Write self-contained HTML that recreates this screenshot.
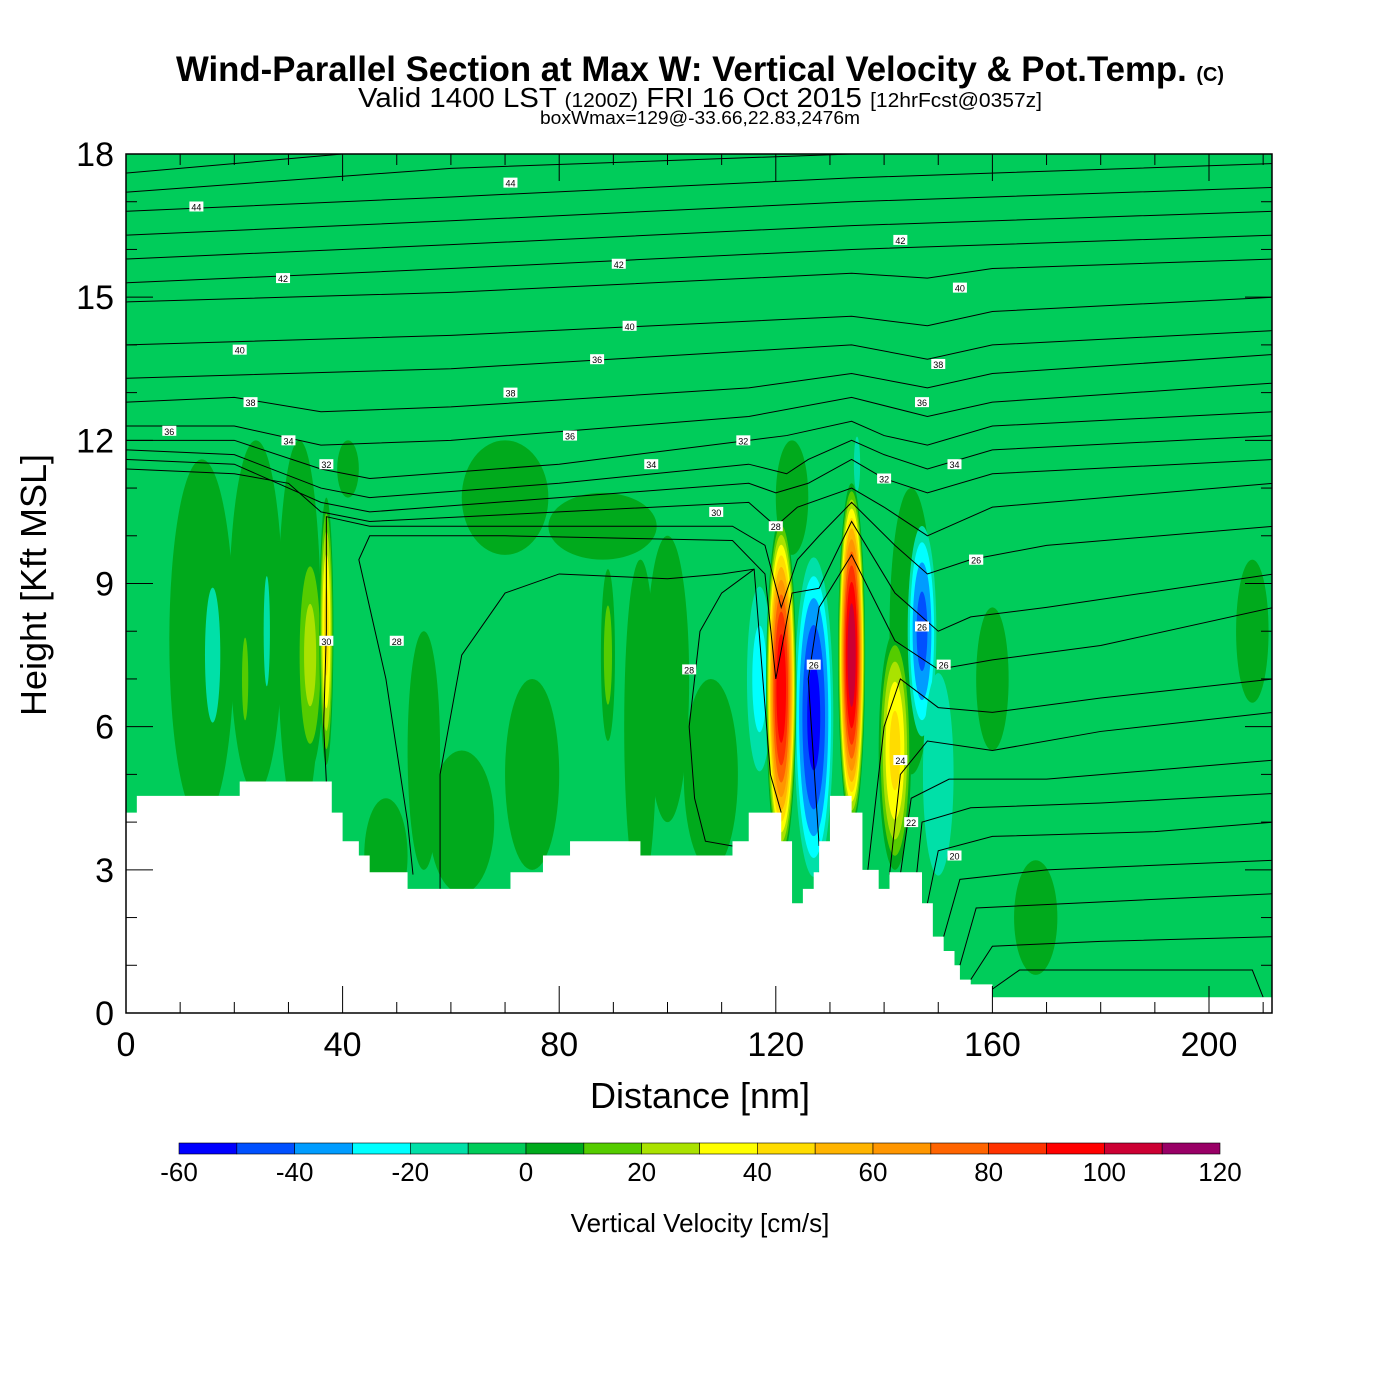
<!DOCTYPE html>
<html><head><meta charset="utf-8"><style>
body{margin:0;background:#fff;font-family:"Liberation Sans",sans-serif}
svg{display:block}
</style></head><body>
<svg id="chart" width="1400" height="1400" xmlns="http://www.w3.org/2000/svg">
<text x="700" y="81" text-anchor="middle" font-size="35" font-weight="bold" textLength="1048" lengthAdjust="spacingAndGlyphs">Wind-Parallel Section at Max W: Vertical Velocity &amp; Pot.Temp. <tspan font-size="20">(C)</tspan></text>
<text x="700" y="107" text-anchor="middle" font-size="28" textLength="684" lengthAdjust="spacingAndGlyphs">Valid 1400 LST <tspan font-size="20">(1200Z)</tspan> FRI 16 Oct 2015 <tspan font-size="20">[12hrFcst@0357z]</tspan></text>
<text x="700" y="124" text-anchor="middle" font-size="18" textLength="320" lengthAdjust="spacingAndGlyphs">boxWmax=129@-33.66,22.83,2476m</text>
<defs><clipPath id="pc"><rect x="126" y="154" width="1146" height="859"/></clipPath></defs>
<g id="plot" clip-path="url(#pc)"></g>
<g id="axes"></g>
<text x="700" y="1108" text-anchor="middle" font-size="36">Distance [nm]</text>
<text transform="translate(46,585) rotate(-90)" text-anchor="middle" font-size="36">Height [Kft MSL]</text>
<g id="cbar"></g>
<text x="700" y="1232" text-anchor="middle" font-size="26">Vertical Velocity [cm/s]</text>
</svg>
<script>
const xTicks=[0,40,80,120,160,200];
const yTicks=[0,3,6,9,12,15,18];
const cbarLevels=[-60,-50,-40,-30,-20,-10,0,10,20,30,40,50,60,70,80,90,100,110,120];
const cbarColors=["#0000ff","#0050ff","#009cff","#00ffff","#00e0a8","#00cc5a","#00aa1c","#55cc00","#aae200","#ffff00","#ffdc00","#ffb400","#ff9600","#ff6400","#ff3200","#ff0000","#cc0033","#990066"];
const cbarLabels=[-60,-40,-20,0,20,40,60,80,100,120];
// terrain: [x0,x1,heightKft]
const terrain=[[0,2,4.2],[2,21,4.55],[21,38,4.85],[38,40,4.2],[40,43,3.6],[43,45,3.3],[45,52,2.95],[52,71,2.6],[71,77,2.95],[77,82,3.3],[82,95,3.6],[95,112,3.3],[112,115,3.6],[115,121,4.2],[121,123,3.6],[123,125,2.3],[125,127,2.6],[127,128,2.95],[128,130,3.6],[130,134,4.55],[134,136,4.2],[136,139,3.0],[139,141,2.6],[141,147,2.95],[147,149,2.3],[149,151,1.6],[151,153,1.3],[153,154,1.0],[154,156,0.7],[156,160,0.6],[160,212,0.33]];
// W blobs: [x nm, z kft, rx nm, rz kft, peak cm/s]
const blobX=[14,24,32,48,55,62,70,88,95,100,108,75,123,145,160,168,208,41,34,37,22,89,16,26,117,127,121,134,142,147,150,135];
const blobZ=[7.8,8.3,8,3.3,5.5,4,10.8,10.2,6,7,5,5,10.8,8,7,2,8,11.4,7.5,8,7,7.5,7.5,8,7,6.2,6.8,7.5,5.5,8,5,11.5];
const blobRX=[6,5,4,4,3,6,8,10,3,4,5,5,3,4,3,4,3,2,2.5,1.3,1,1.3,2,1,3,4,2.8,2.5,3,3,4,1];
const blobRZ=[3.8,3.7,4,1.2,2.5,1.5,1.2,0.7,3.5,3,2,2,1.2,3,1.5,1.2,1.5,0.6,2.4,2.8,1.5,1.8,2,2,2.5,3.7,3.6,3.6,2.5,2.5,3,1];
const blobPeak=[5,5,5,5,5,5,5,5,5,5,5,5,5,5,5,5,5,5,25,45,15,15,-20,-15,-25,-55,100,110,45,-45,-20,-15];
// theta contours: lists of [x,z]
const thetaLines=[
[[0,17.6],[60,18.2],[100,18.4],[212,18.5]],
[[0,17.2],[60,17.7],[134,18],[212,18.3]],
[[0,16.8],[60,17.1],[134,17.5],[212,17.8]],
[[0,16.3],[60,16.6],[134,17],[212,17.3]],
[[0,15.8],[60,16.1],[134,16.5],[212,16.8]],
[[0,15.3],[60,15.6],[134,16],[212,16.3]],
[[0,14.9],[60,15.1],[134,15.5],[148,15.4],[160,15.6],[212,15.8]],
[[0,14.0],[60,14.2],[134,14.6],[148,14.4],[160,14.7],[212,15.0]],
[[0,13.3],[60,13.5],[134,14],[148,13.7],[160,14],[212,14.3]],
[[0,12.8],[20,12.9],[36,12.6],[60,12.7],[115,13.1],[134,13.4],[148,13.1],[160,13.4],[212,13.8]],
[[0,12.3],[20,12.3],[36,11.9],[60,12.0],[115,12.5],[134,12.9],[148,12.5],[160,12.8],[212,13.2]],
[[0,12.0],[20,12.0],[36,11.4],[45,11.2],[80,11.5],[115,12],[122,12.1],[134,12.4],[140,12.1],[148,11.9],[160,12.3],[212,12.6]],
[[0,11.8],[20,11.7],[36,11.0],[45,10.8],[80,11.1],[115,11.5],[122,11.3],[126,11.6],[134,12],[140,11.7],[148,11.4],[160,11.8],[212,12.1]],
[[0,11.6],[20,11.5],[36,10.7],[45,10.5],[80,10.8],[115,11.1],[120,10.9],[126,11.1],[134,11.6],[140,11.2],[148,10.9],[160,11.3],[212,11.6]],
[[0,11.4],[20,11.3],[30,11.1],[36,10.5],[45,10.3],[80,10.5],[115,10.7],[120,10.2],[124,10.6],[134,11.0],[140,10.6],[148,10.0],[160,10.6],[212,11.1]],
[[37,4.85],[36.5,6],[37,8],[37,10.4],[45,10.2],[80,10.2],[112,10.2],[118,9.8],[121,8.5],[124,9.5],[128,10],[134,10.7],[142,9.8],[148,9.2],[156,9.5],[170,9.8],[212,10.2]],
[[53,2.9],[52,4],[50,5.5],[48,7],[45,8.5],[43,9.5],[45,10],[70,10],[112,9.9],[118,9.2],[120,7],[123,8.8],[128,8.9],[134,10.3],[142,8.8],[150,8],[156,8.3],[170,8.5],[212,9.2]],
[[58,2.6],[58,5],[62,7.5],[70,8.8],[80,9.2],[100,9.1],[110,9.2],[116,9.3],[119,5],[121,4.2]],
[[112,3.5],[107,3.6],[105,4.5],[104,6],[106,8],[110,8.8],[116,9.3]],
[[128,3.5],[126,7],[128,8.5],[134,9.6],[142,7.8],[150,7.2],[160,7.4],[180,7.7],[212,8.5]],
[[137,3.0],[140,6],[143,7],[150,6.4],[160,6.3],[180,6.6],[212,7.0]],
[[141,2.9],[143,5],[148,5.7],[160,5.5],[180,5.9],[212,6.3]],
[[143,2.9],[145,4.5],[152,4.9],[170,4.9],[212,5.3]],
[[146,2.9],[147,4],[156,4.3],[180,4.4],[212,4.6]],
[[148,2.3],[150,3.4],[160,3.7],[190,3.8],[212,4.0]],
[[151,1.6],[154,2.8],[170,3.0],[212,3.2]],
[[154,1.0],[157,2.2],[175,2.3],[212,2.5]],
[[156,0.7],[160,1.4],[180,1.5],[212,1.6]],
[[160,0.5],[165,0.9],[185,0.9],[208,0.9],[210,0.33]]];
const labelX=[13,71,91,29,93,21,87,8,23,71,30,82,37,97,109,114,104,50,37,120,127,147,150,153,154,143,157,157,147,151,143,145,153,140];
const labelZ=[16.9,17.4,15.7,15.4,14.4,13.9,13.7,12.2,12.8,13,12,12.1,11.5,11.5,10.5,12,7.2,7.8,7.8,10.2,7.3,12.8,13.6,11.5,15.2,16.2,9.5,9.5,8.1,7.3,5.3,4.0,3.3,11.2];
const labelTxt=["44","44","42","42","40","40","36","36","38","38","34","36","32","34","30","32","28","28","30","28","26","36","38","34","40","42","26","26","26","26","24","22","20","32"];

const NS="http://www.w3.org/2000/svg";
const X0=126,X1=1272,Y0=1013,Y1=154;
const sx=v=>X0+v*(1209-126)/200;
const sy=v=>Y0-v*(Y0-Y1)/18;
function mk(t,a,p){const e=document.createElementNS(NS,t);for(const k in a)e.setAttribute(k,a[k]);p.appendChild(e);return e;}
function colorFor(lo){const i=cbarLevels.indexOf(lo);return cbarColors[Math.max(0,Math.min(cbarColors.length-1,i))];}
const plot=document.getElementById('plot');
const bg=mk('rect',{x:X0,y:Y1,width:X1-X0,height:Y0-Y1,fill:"#00cc5a"},plot);


for(let b=0;b<blobX.length;b++){
  const p=blobPeak[b];
  const g=mk('g',{},plot);
  
  
  if(p>0){
    for(let L=0;L<p;L+=10){
      const f=Math.sqrt(1-L/p);
      mk('ellipse',{cx:sx(blobX[b]),cy:sy(blobZ[b]),rx:Math.abs(sx(blobRX[b]*f)-sx(0)),ry:Math.abs(sy(0)-sy(blobRZ[b]*f)),fill:colorFor(L)},g);
    }
  } else {
    for(let L=-10;L>p;L-=10){
      const f=Math.sqrt(1-L/p);
      mk('ellipse',{cx:sx(blobX[b]),cy:sy(blobZ[b]),rx:Math.abs(sx(blobRX[b]*f)-sx(0)),ry:Math.abs(sy(0)-sy(blobRZ[b]*f)),fill:colorFor(L-10)},g);
    }
  }
}
for(const c of thetaLines){
  const pl=mk('polyline',{points:c.map(q=>sx(q[0])+','+sy(q[1])).join(' '),fill:'none',stroke:'#000','stroke-width':1},plot);
  
  
}
for(let i=0;i<labelX.length;i++){
  const g=mk('g',{},plot);
  
  
  mk('rect',{x:sx(labelX[i])-7,y:sy(labelZ[i])-5,width:14,height:10,fill:'#fff'},g);
  const t=mk('text',{x:sx(labelX[i]),y:sy(labelZ[i])+4,'font-size':9,'text-anchor':'middle'},g);
  t.textContent=labelTxt[i];
}
let d='M'+sx(0)+','+sy(0);
for(const t of terrain){d+=' L'+sx(t[0])+','+sy(t[2])+' L'+sx(t[1])+','+sy(t[2]);}
d+=' L'+sx(212)+','+sy(0)+' Z';
const tr=mk('path',{d:d,fill:'#fff'},plot);



const ax=document.getElementById('axes');
const frame=mk('rect',{x:X0,y:Y1,width:X1-X0,height:Y0-Y1,fill:'none',stroke:'#000','stroke-width':1.5},ax);


for(let v=0;v<=210;v+=10){
  const L=(v%40===0)?27:11;
  mk('line',{x1:sx(v),x2:sx(v),y1:Y0,y2:Y0-L,stroke:'#000','stroke-width':1},ax);
  mk('line',{x1:sx(v),x2:sx(v),y1:Y1,y2:Y1+L,stroke:'#000','stroke-width':1},ax);
}
for(let v=0;v<=18;v++){
  const L=(v%3===0)?27:11;
  mk('line',{x1:X0,x2:X0+L,y1:sy(v),y2:sy(v),stroke:'#000','stroke-width':1},ax);
  mk('line',{x1:X1,x2:X1-L,y1:sy(v),y2:sy(v),stroke:'#000','stroke-width':1},ax);
}
for(const v of xTicks){
  const t=mk('text',{x:sx(v),y:1056,'font-size':34,'text-anchor':'middle'},ax);
  
  
  t.textContent=v;
}
for(const v of yTicks){
  const t=mk('text',{x:114,y:sy(v)+12,'font-size':34,'text-anchor':'end'},ax);
  
  
  t.textContent=v;
}
const cb=document.getElementById('cbar');
const cx=v=>179+(v+60)*(1220-179)/180;
for(let i=0;i<cbarColors.length;i++){
  const r=mk('rect',{x:cx(cbarLevels[i]),y:1143,width:cx(cbarLevels[i+1])-cx(cbarLevels[i]),height:11,fill:cbarColors[i],stroke:'#000','stroke-width':0.6},cb);
  
  
}
for(const v of cbarLabels){
  const t=mk('text',{x:cx(v),y:1181,'font-size':26,'text-anchor':'middle'},cb);
  
  
  t.textContent=v;
}
</script>
</body></html>
